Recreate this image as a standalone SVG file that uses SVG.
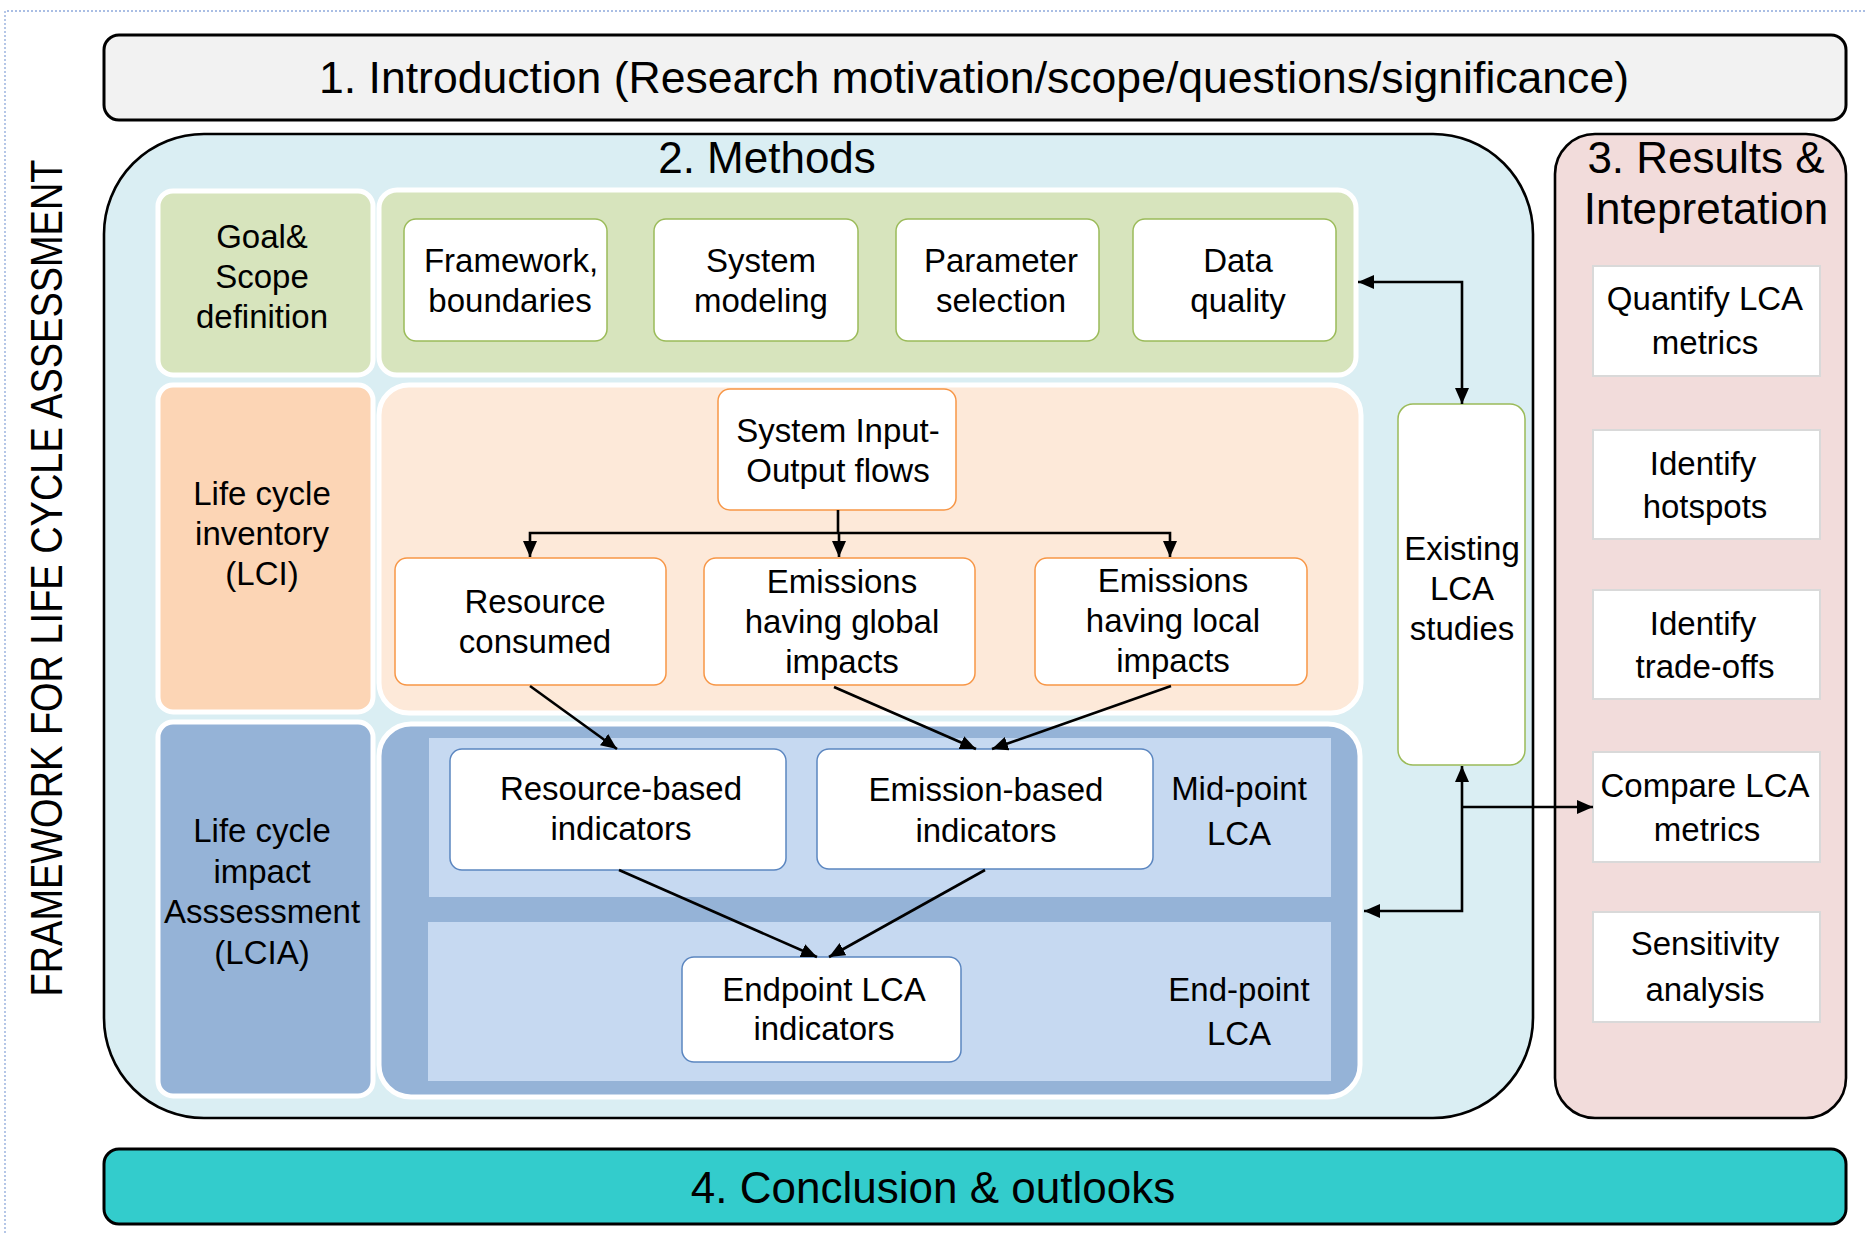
<svg xmlns="http://www.w3.org/2000/svg" width="1865" height="1233" viewBox="0 0 1865 1233">
<style>
.t{font-family:"Liberation Sans",Arial,sans-serif;font-size:33px;text-anchor:middle;fill:#000}
.h{font-family:"Liberation Sans",Arial,sans-serif;font-size:44px;text-anchor:middle;fill:#000}
.big{stroke:#000;stroke-width:2.6}
.panel{stroke:#fff;stroke-width:5}
.gbox{fill:#fff;stroke:#9bbb59;stroke-width:1.5}
.obox{fill:#fff;stroke:#f79646;stroke-width:1.5}
.bbox{fill:#fff;stroke:#5b86c0;stroke-width:1.5}
.rbox{fill:#fff;stroke:#d9d9d9;stroke-width:2}
.ln{fill:none;stroke:#000;stroke-width:2.6}
</style>
<defs>
<marker id="ah" viewBox="0 0 16 14" refX="16" refY="7" markerWidth="16" markerHeight="14" markerUnits="userSpaceOnUse" orient="auto-start-reverse">
<path d="M0,0 L16,7 L0,14 Z" fill="#000"/>
</marker>
</defs>
<rect width="1865" height="1233" fill="#fff"/>
<path d="M5,1233 V11 H1865" fill="none" stroke="#8ea9db" stroke-width="1.3" stroke-dasharray="2 2"/>

<text class="h" transform="translate(62,578) rotate(-90)" textLength="837" lengthAdjust="spacingAndGlyphs">FRAMEWORK FOR LIFE CYCLE ASSESSMENT</text>

<g id="intro">
<rect x="104" y="35" width="1742" height="85" rx="15" fill="#f2f2f2" stroke="#000" stroke-width="3"/>
<text class="h" x="974" y="93" textLength="1310" lengthAdjust="spacingAndGlyphs">1. Introduction (Research motivation/scope/questions/significance)</text>
</g>

<g id="methods">
<rect x="104" y="134" width="1429" height="984" rx="100" fill="#daeef3" class="big"/>
<text class="h" x="767" y="173">2. Methods</text>
</g>

<g id="results">
<rect x="1555" y="134" width="291" height="984" rx="40" fill="#f2dcdb" class="big"/>
<text class="h" x="1706" y="173">3. Results &amp;</text>
<text class="h" x="1706" y="224">Intepretation</text>
</g>

<g id="conclusion">
<rect x="104" y="1149" width="1742" height="75" rx="15" fill="#33cccc" stroke="#000" stroke-width="3"/>
<text class="h" x="933" y="1203">4. Conclusion &amp; outlooks</text>
</g>

<g id="goal-scope">
<rect x="158" y="191" width="215" height="184" rx="15" fill="#d7e4bd" class="panel"/>
<text class="t" x="262" y="248">Goal&amp;</text>
<text class="t" x="262" y="288">Scope</text>
<text class="t" x="262" y="328">definition</text>
</g>
<g id="goal-panel">
<rect x="379" y="190" width="977" height="185" rx="18" fill="#d7e4bd" class="panel"/>
</g>
<g id="framework">
<rect x="404" y="219" width="203" height="122" rx="12" class="gbox"/>
<text class="t" x="511" y="272">Framework,</text>
<text class="t" x="510" y="312">boundaries</text>
</g>
<g id="system-modeling">
<rect x="654" y="219" width="204" height="122" rx="12" class="gbox"/>
<text class="t" x="761" y="272">System</text>
<text class="t" x="761" y="312">modeling</text>
</g>
<g id="parameter">
<rect x="896" y="219" width="203" height="122" rx="12" class="gbox"/>
<text class="t" x="1001" y="272">Parameter</text>
<text class="t" x="1001" y="312">selection</text>
</g>
<g id="data-quality">
<rect x="1133" y="219" width="203" height="122" rx="12" class="gbox"/>
<text class="t" x="1238" y="272">Data</text>
<text class="t" x="1238" y="312">quality</text>
</g>

<g id="lci">
<rect x="158" y="385" width="215" height="327" rx="15" fill="#fcd5b5" class="panel"/>
<text class="t" x="262" y="505">Life cycle</text>
<text class="t" x="262" y="545">inventory</text>
<text class="t" x="262" y="585">(LCI)</text>
</g>
<g id="lci-panel">
<rect x="379" y="385" width="982" height="328" rx="30" fill="#fde9d9" class="panel"/>
</g>
<g id="io-flows">
<rect x="718" y="389" width="238" height="121" rx="12" class="obox"/>
<text class="t" x="838" y="442">System Input-</text>
<text class="t" x="838" y="482">Output flows</text>
</g>
<g id="resource-consumed">
<rect x="395" y="558" width="271" height="127" rx="12" class="obox"/>
<text class="t" x="535" y="613">Resource</text>
<text class="t" x="535" y="653">consumed</text>
</g>
<g id="emissions-global">
<rect x="704" y="558" width="271" height="127" rx="12" class="obox"/>
<text class="t" x="842" y="593">Emissions</text>
<text class="t" x="842" y="633">having global</text>
<text class="t" x="842" y="673">impacts</text>
</g>
<g id="emissions-local">
<rect x="1035" y="558" width="272" height="127" rx="12" class="obox"/>
<text class="t" x="1173" y="592">Emissions</text>
<text class="t" x="1173" y="632">having local</text>
<text class="t" x="1173" y="672">impacts</text>
</g>

<g id="lcia">
<rect x="158" y="722" width="215" height="374" rx="15" fill="#95b3d7" class="panel"/>
<text class="t" x="262" y="842">Life cycle</text>
<text class="t" x="262" y="883">impact</text>
<text class="t" x="262" y="923">Asssessment</text>
<text class="t" x="262" y="964">(LCIA)</text>
</g>
<g id="lcia-panel">
<rect x="379" y="724" width="981" height="373" rx="32" fill="#95b3d7" class="panel"/>
<rect x="429" y="738" width="902" height="159" fill="#c6d9f1"/>
<rect x="428" y="922" width="903" height="159" fill="#c6d9f1"/>
</g>
<g id="midpoint-label">
<text class="t" x="1239" y="800">Mid-point</text>
<text class="t" x="1239" y="845">LCA</text>
</g>
<g id="endpoint-label">
<text class="t" x="1239" y="1001">End-point</text>
<text class="t" x="1239" y="1045">LCA</text>
</g>
<g id="resource-based">
<rect x="450" y="749" width="336" height="121" rx="12" class="bbox"/>
<text class="t" x="621" y="800">Resource-based</text>
<text class="t" x="621" y="840">indicators</text>
</g>
<g id="emission-based">
<rect x="817" y="749" width="336" height="120" rx="12" class="bbox"/>
<text class="t" x="986" y="801">Emission-based</text>
<text class="t" x="986" y="842">indicators</text>
</g>
<g id="endpoint-indicators">
<rect x="682" y="957" width="279" height="105" rx="12" class="bbox"/>
<text class="t" x="824" y="1001">Endpoint LCA</text>
<text class="t" x="824" y="1040">indicators</text>
</g>

<g id="existing-lca">
<rect x="1398" y="404" width="127" height="361" rx="15" class="gbox"/>
<text class="t" x="1462" y="560">Existing</text>
<text class="t" x="1462" y="600">LCA</text>
<text class="t" x="1462" y="640">studies</text>
</g>

<g id="quantify">
<rect x="1593" y="266" width="227" height="110" class="rbox"/>
<text class="t" x="1705" y="310">Quantify LCA</text>
<text class="t" x="1705" y="354">metrics</text>
</g>
<g id="hotspots">
<rect x="1593" y="430" width="227" height="109" class="rbox"/>
<text class="t" x="1703" y="475">Identify</text>
<text class="t" x="1705" y="518">hotspots</text>
</g>
<g id="tradeoffs">
<rect x="1593" y="590" width="227" height="109" class="rbox"/>
<text class="t" x="1703" y="635">Identify</text>
<text class="t" x="1705" y="678">trade-offs</text>
</g>
<g id="compare">
<rect x="1593" y="752" width="227" height="110" class="rbox"/>
<text class="t" x="1705" y="797">Compare LCA</text>
<text class="t" x="1707" y="841">metrics</text>
</g>
<g id="sensitivity">
<rect x="1593" y="912" width="227" height="110" class="rbox"/>
<text class="t" x="1705" y="955">Sensitivity</text>
<text class="t" x="1705" y="1001">analysis</text>
</g>

<g id="connectors">
<path class="ln" d="M838,510 V533"/>
<path class="ln" d="M530,557 V533 H1170 V557" marker-start="url(#ah)" marker-end="url(#ah)"/>
<path class="ln" d="M839,533 V557" marker-end="url(#ah)"/>
<path class="ln" d="M530,686 L617,749" marker-end="url(#ah)"/>
<path class="ln" d="M834,687 L976,749" marker-end="url(#ah)"/>
<path class="ln" d="M1171,686 L992,749" marker-end="url(#ah)"/>
<path class="ln" d="M619,870 L817,957" marker-end="url(#ah)"/>
<path class="ln" d="M985,870 L829,957" marker-end="url(#ah)"/>
<path class="ln" d="M1358,282 H1462 V404" marker-start="url(#ah)" marker-end="url(#ah)"/>
<path class="ln" d="M1364,911 H1462 V766" marker-start="url(#ah)" marker-end="url(#ah)"/>
<path class="ln" d="M1462,807 H1593" marker-end="url(#ah)"/>
</g>
</svg>
